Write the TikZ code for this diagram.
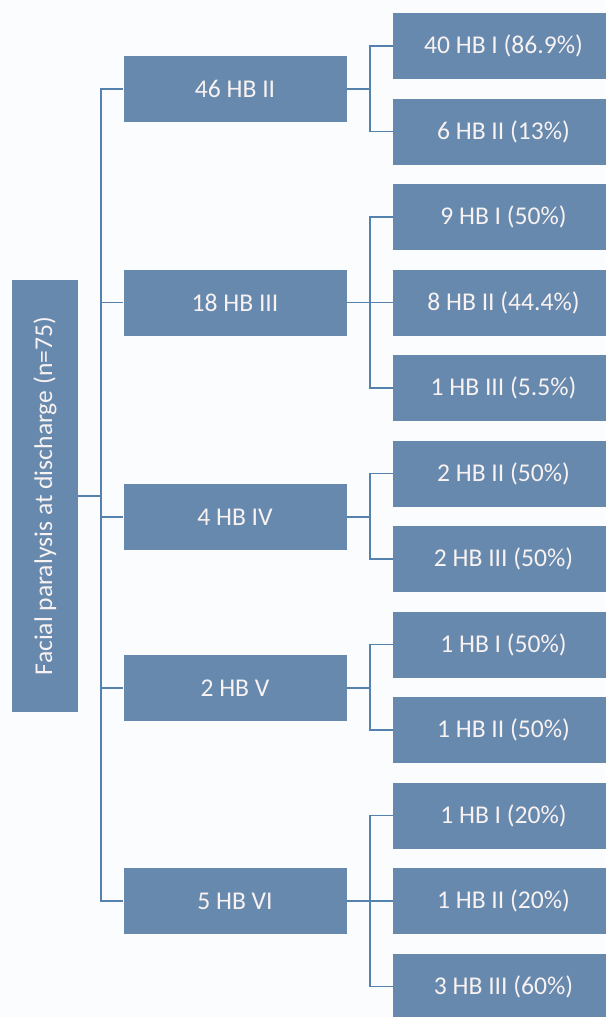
\documentclass[tikz,border=0pt]{standalone}
\usepackage{fontspec}
\setmainfont{Carlito}
\definecolor{boxblue}{HTML}{6789AD}
\definecolor{lineblue}{HTML}{5482AC}
\definecolor{txt}{HTML}{F8F2F2}
\definecolor{bg}{HTML}{FBFCFE}
\begin{document}
\begin{tikzpicture}[x=1pt,y=-1pt,
  box/.style={fill=boxblue,draw=none,inner sep=0pt,text=txt,
    font=\fontsize{25.6}{30}\selectfont},
  midbox/.style={box,minimum width=223pt,minimum height=66pt},
  leafbox/.style={box,minimum width=221pt,minimum height=66pt},
  conn/.style={draw=lineblue,line width=1.6pt}]
\useasboundingbox (0,0) rectangle (605,1017);
\fill[bg] (0,0) rectangle (605,1017);
\node[box,minimum width=66pt,minimum height=432pt] (root) at (45,496) {};
\node[text=txt,font=\fontsize{25.6}{30}\selectfont,rotate=90,inner sep=0pt] (roottext) at (root.center) {Facial paralysis at discharge (n=75)};
% middle level
\node[midbox] (m1) at (235,89) {46 HB II};
\node[midbox] (m2) at (235,302.5) {18 HB III};
\node[midbox] (m3) at (235,517) {4 HB IV};
\node[midbox] (m4) at (235,688) {2 HB V};
\node[midbox] (m5) at (235,901) {5 HB VI};
% leaves
\node[leafbox] (l1) at (503.5,46) {40 HB I (86.9\%)};
\node[leafbox] (l2) at (503.5,131.5) {6 HB II (13\%)};
\node[leafbox] (l3) at (503.5,217) {9 HB I (50\%)};
\node[leafbox] (l4) at (503.5,302.5) {8 HB II (44.4\%)};
\node[leafbox] (l5) at (503.5,388) {1 HB III (5.5\%)};
\node[leafbox] (l6) at (503.5,473.5) {2 HB II (50\%)};
\node[leafbox] (l7) at (503.5,559) {2 HB III (50\%)};
\node[leafbox] (l8) at (503.5,644.5) {1 HB I (50\%)};
\node[leafbox] (l9) at (503.5,730) {1 HB II (50\%)};
\node[leafbox] (l10) at (503.5,815.5) {1 HB I (20\%)};
\node[leafbox] (l11) at (503.5,901) {1 HB II (20\%)};
\node[leafbox] (l12) at (503.5,986.5) {3 HB III (60\%)};
% connectors root -> middle
\foreach \m in {m1,m2,m3,m4,m5}
  \draw[conn] (root.east) -- +(23,0) |- (\m.west);
% middle -> leaves
\foreach \m/\l in {m1/l1,m1/l2,m2/l3,m2/l4,m2/l5,m3/l6,m3/l7,m4/l8,m4/l9,m5/l10,m5/l11,m5/l12}
  \draw[conn] (\m.east) -- +(23,0) |- (\l.west);
\end{tikzpicture}
\end{document}
